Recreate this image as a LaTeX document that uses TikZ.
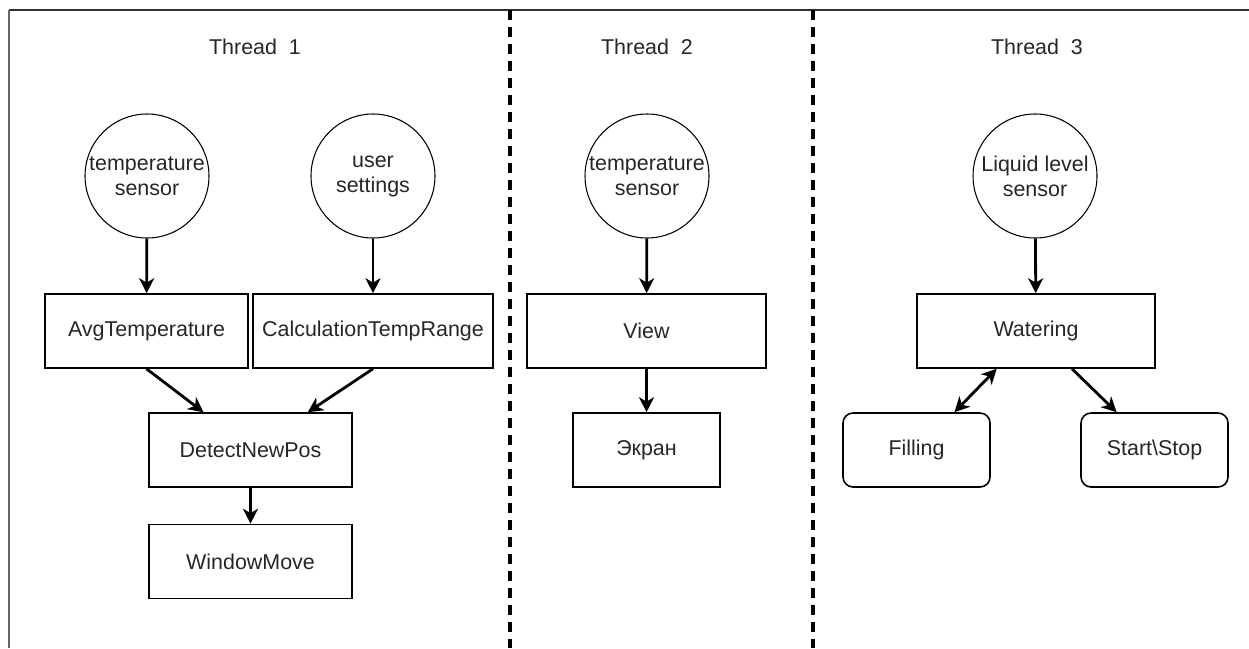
\documentclass[tikz,border=0pt]{standalone}
\usepackage{fontspec}
\setmainfont{Liberation Sans}
\usepackage{tikz}
\usetikzlibrary{shapes,arrows.meta,positioning,calc}

\tikzset{
    txt/.style={font=\fontsize{12.2}{14.2}\selectfont, text=black!85},
    sensor/.style={txt, draw, circle, line width=0.6pt, minimum size=2.48cm, inner sep=0pt, align=center},
    block/.style={txt, draw, line width=0.9pt, minimum height=1.48cm, inner sep=0pt},
    rblock/.style={block, rounded corners=0.2cm},
    flow/.style={line width=1.6pt, -{Stealth[length=0.3cm,width=0.3cm,inset=0.09cm]}},
    bothflow/.style={line width=1.6pt, {Stealth[length=0.3cm,width=0.3cm,inset=0.09cm]}-{Stealth[length=0.3cm,width=0.3cm,inset=0.09cm]}},
    divider/.style={line width=2pt, dash pattern=on 0.19cm off 0.15cm}
}

\begin{document}
\begin{tikzpicture}
            \useasboundingbox (0,0) rectangle (24.98,-12.96);

            % frame and thread separators
            \draw[line width=1.2pt, black!80] (0.18,-0.2)--(24.98,-0.2);
            \draw[line width=0.6pt, black!60] (0.18,-0.2)--(0.18,-12.96);
            \draw[divider] (10.2,-0.2)--(10.2,-12.96);
            \draw[divider] (16.26,-0.2)--(16.26,-12.96);

            \node[txt] (title1) at (5.10,-0.94) {Thread~~1};
            \node[txt] (title2) at (12.94,-0.94) {Thread~~2};
            \node[txt] (title3) at (20.74,-0.94) {Thread~~3};

            % thread 1
            \node[sensor] (tempA) at (2.94,-3.52) {temperature\\sensor};
            \node[sensor] (user) at (7.46,-3.52) {user\\settings};
            \node[block, minimum width=4.06cm] (avg) at (2.93,-6.62) {AvgTemperature};
            \node[block, minimum width=4.80cm] (range) at (7.46,-6.62) {CalculationTempRange};
            \node[block, minimum width=4.06cm] (detect) at (5.01,-9.00) {DetectNewPos};
            \node[block, minimum width=4.06cm] (move) at (5.01,-11.23) {WindowMove};

            \draw[flow] (tempA)--(avg);
            \draw[flow] (user)--(range);
            \draw[flow] (avg.south)--($(detect.north west)!0.27!(detect.north east)$);
            \draw[flow] (range.south)--($(detect.north west)!0.78!(detect.north east)$);
            \draw[flow] (detect)--(move);

            % thread 2
            \node[sensor] (tempB) at (12.94,-3.52) {temperature\\sensor};
            \node[block, minimum width=4.78cm] (view) at (12.93,-6.62) {View};
            \node[block, minimum width=2.94cm] (screen) at (12.93,-9.00) {Экран};

            \draw[flow] (tempB)--(view);
            \draw[flow] (view)--(screen);

            % thread 3
            \node[sensor] (level) at (20.70,-3.52) {Liquid level\\sensor};
            \node[block, minimum width=4.76cm] (water) at (20.72,-6.62) {Watering};
            \node[rblock, minimum width=2.94cm] (fill) at (18.33,-9.00) {Filling};
            \node[rblock, minimum width=2.94cm] (startstop) at (23.09,-9.00) {Start\textbackslash Stop};

            \draw[flow] (level)--(water);
            \draw[bothflow] ($(water.south west)!0.336!(water.south east)$)--($(fill.north west)!0.755!(fill.north east)$);
            \draw[flow] ($(water.south west)!0.65!(water.south east)$)--($(startstop.north west)!0.245!(startstop.north east)$);
\end{tikzpicture}
\end{document}
